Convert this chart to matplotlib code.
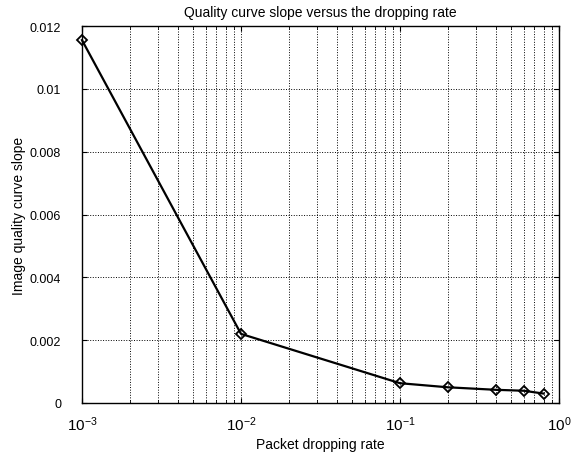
import math
import matplotlib
matplotlib.use('Agg')
import matplotlib.pyplot as plt
from matplotlib.ticker import LogLocator, FixedLocator, FuncFormatter

plt.rcParams['font.family'] = ['Liberation Sans', 'DejaVu Sans']
plt.rcParams['mathtext.fontset'] = 'custom'
plt.rcParams['mathtext.rm'] = 'Liberation Sans'
plt.rcParams['mathtext.it'] = 'Liberation Sans'
plt.rcParams['axes.unicode_minus'] = False

drop_rate = [0.001, 0.01, 0.1, 0.2, 0.4, 0.6, 0.8]
slope = [0.01155, 0.0022, 0.00063, 0.0005, 0.00042, 0.00039, 0.00030]
y_ticks = [0, 0.002, 0.004, 0.006, 0.008, 0.01, 0.012]
y_labels = ['0', '0.002', '0.004', '0.006', '0.008', '0.01', '0.012']

fig = plt.figure(figsize=(5.71, 4.56), dpi=100)
ax = fig.add_axes([82 / 571, 1 - 404 / 456, (559 - 82) / 571, (404 - 27) / 456])

ax.semilogx(drop_rate, slope, '-', color='k', lw=1.6, marker='D', ms=5,
            mfc='none', mec='k', mew=1.3, clip_on=False, zorder=5)

ax.set_xlim(1e-3, 1)
ax.set_ylim(0, 0.012)
ax.yaxis.set_major_locator(FixedLocator(y_ticks))
ax.set_yticklabels(y_labels)
ax.xaxis.set_major_locator(LogLocator(base=10, numticks=10))
ax.xaxis.set_minor_locator(LogLocator(base=10, subs=range(2, 10), numticks=20))
ax.xaxis.set_major_formatter(FuncFormatter(
    lambda v, p: r'$10^{%d}$' % round(math.log10(v))))

ax.grid(True, which='major', axis='both', linestyle=':', color='k', lw=0.7)
ax.grid(True, which='minor', axis='x', linestyle=':', color='k', lw=0.7)

ax.tick_params(which='both', direction='in', top=True, right=True, labelsize=9)
ax.tick_params(axis='x', which='major', labelsize=11, pad=8)
ax.tick_params(axis='y', pad=15)
ax.tick_params(which='minor', labelbottom=False)
for s in ax.spines.values():
    s.set_linewidth(1.0)

ax.set_xlabel('Packet dropping rate', fontsize=10, labelpad=3)
ax.set_ylabel('Image quality curve slope', fontsize=10, labelpad=3)
ax.set_title('Quality curve slope versus the dropping rate', fontsize=10, pad=7)

fig.savefig('out.png', dpi=100)
